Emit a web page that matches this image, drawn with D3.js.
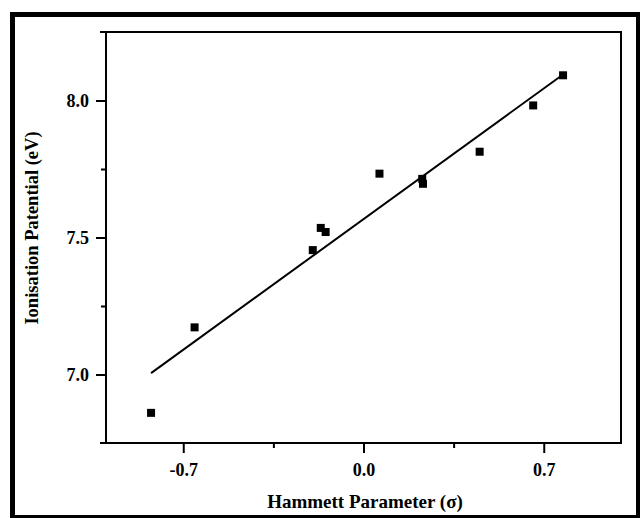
<!doctype html>
<html lang="en">

<head>
    <meta charset="utf-8">
    <script src="https://d3js.org/d3.v7.min.js"></script>
    <title>Ionisation Patential vs Hammett Parameter</title>
    <style>
        body { margin: 0; background: #fff; }
        svg text { font-family: "Liberation Serif", "Times New Roman", serif; font-weight: bold; fill: #000; }
    </style>
</head>

<body>
    <svg id="svg1" width="640" height="518"></svg>

    <script>
        // values
        let sigma = [-0.825, -0.656, -0.197, -0.166, -0.147, 0.062, 0.228, 0.231, 0.451, 0.659, 0.775];
        let ip    = [6.860, 7.172, 7.454, 7.535, 7.520, 7.733, 7.714, 7.696, 7.813, 7.982, 8.092];
        let fitX  = [-0.825, 0.775];
        let fitY  = [7.005, 8.095];
        let xMajor = [-0.7, 0.0, 0.7];
        let xMinor = [-0.35, 0.35];
        let yMajor = [7.0, 7.5, 8.0];
        let yMinor = [7.25, 7.75];

        let width = 640, height = 518;
        let margin = { top: 32, right: 19, bottom: 75, left: 106 };
        let svg, xScale, yScale;

        function draw() {
            svg = d3.select("#svg1");

            // outer frame (thicker on the left / top like the scan)
            svg.append("line").attr("x1", 12.5).attr("x2", 12.5).attr("y1", 12).attr("y2", 518)
                .attr("stroke", "#000").attr("stroke-width", 5);
            svg.append("line").attr("x1", 10).attr("x2", 640).attr("y1", 14.5).attr("y2", 14.5)
                .attr("stroke", "#000").attr("stroke-width", 5);
            svg.append("line").attr("x1", 638).attr("x2", 638).attr("y1", 12).attr("y2", 518)
                .attr("stroke", "#000").attr("stroke-width", 4);
            svg.append("line").attr("x1", 10).attr("x2", 640).attr("y1", 516.5).attr("y2", 516.5)
                .attr("stroke", "#000").attr("stroke-width", 3);

            xScale = d3.scaleLinear().domain([-1, 1]).range([margin.left, width - margin.right]);
            yScale = d3.scaleLinear().domain([6.75, 8.25]).range([height - margin.bottom, margin.top]);

            let x0 = xScale.range()[0], x1 = xScale.range()[1];
            let y0 = yScale.range()[0], y1 = yScale.range()[1];
            let fmt = d => d.toFixed(1);   // plain hyphen for the minus, as in the scan

            // x axis
            let gx = svg.append("g").attr("transform", `translate(0,${y0})`);
            gx.call(d3.axisBottom(xScale).tickValues(xMajor).tickSize(10).tickPadding(10).tickFormat(fmt));
            gx.append("g").call(d3.axisBottom(xScale).tickValues(xMinor).tickSize(5).tickFormat(""));
            gx.selectAll("text").attr("font-size", 18).style("font-family", null);

            // y axis
            let gy = svg.append("g").attr("transform", `translate(${x0},0)`);
            gy.call(d3.axisLeft(yScale).tickValues(yMajor).tickSize(10).tickPadding(7).tickFormat(fmt));
            gy.append("g").call(d3.axisLeft(yScale).tickValues(yMinor).tickSize(5).tickFormat(""));
            gy.selectAll("text").attr("font-size", 18).style("font-family", null);

            svg.selectAll(".domain").remove();
            svg.selectAll(".tick line").attr("stroke", "#000").attr("stroke-width", 2);

            // plot box
            svg.append("path")
                .attr("d", `M${x0 - 6},${y1}H${x1}V${y0}H${x0 - 6}M${x0},${y1}V${y0}`)
                .attr("fill", "none").attr("stroke", "#000").attr("stroke-width", 2);

            // fit line
            let line = d3.line().x(d => xScale(d[0])).y(d => yScale(d[1]));
            svg.append("path")
                .datum(d3.zip(fitX, fitY))
                .attr("d", line)
                .attr("fill", "none").attr("stroke", "#000").attr("stroke-width", 2);

            // points
            svg.append("g")
                .selectAll("rect")
                .data(d3.zip(sigma, ip))
                .join("rect")
                .attr("x", d => xScale(d[0]) - 4)
                .attr("y", d => yScale(d[1]) - 4)
                .attr("width", 8)
                .attr("height", 8)
                .attr("fill", "#000");

            // axis titles
            svg.append("text")
                .attr("x", 365)
                .attr("y", 508)
                .attr("text-anchor", "middle")
                .attr("font-size", 19)
                .text("Hammett Parameter (σ)");

            svg.append("text")
                .attr("transform", `translate(38,228) rotate(-90)`)
                .attr("text-anchor", "middle")
                .attr("font-size", 18.5)
                .text("Ionisation Patential (eV)");
        }

        draw();
    </script>
</body>

</html>
